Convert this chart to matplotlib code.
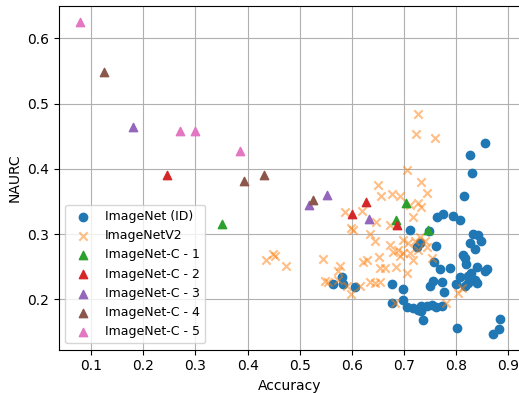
import matplotlib
matplotlib.use("Agg")
import matplotlib.pyplot as plt

# ImageNet (ID)
acc_id = [0.855, 0.827, 0.831, 0.815, 0.763, 0.775, 0.794, 0.808, 0.711, 0.748,
          0.832, 0.841, 0.847, 0.826, 0.836, 0.761, 0.730, 0.724, 0.812, 0.817,
          0.818, 0.757, 0.769, 0.788, 0.840, 0.858, 0.829, 0.823, 0.807, 0.836,
          0.839, 0.823, 0.817, 0.799, 0.756, 0.749, 0.772, 0.776, 0.580, 0.564,
          0.582, 0.605, 0.676, 0.697, 0.677, 0.697, 0.705, 0.717, 0.727, 0.733,
          0.743, 0.753, 0.762, 0.772, 0.736, 0.801, 0.884, 0.882, 0.870, 0.855,
          0.733]
naurc_id = [0.439, 0.422, 0.393, 0.358, 0.326, 0.331, 0.328, 0.321, 0.306, 0.305,
            0.301, 0.298, 0.290, 0.286, 0.277, 0.282, 0.287, 0.280, 0.268, 0.263,
            0.255, 0.257, 0.246, 0.248, 0.250, 0.246, 0.241, 0.236, 0.235, 0.230,
            0.225, 0.225, 0.220, 0.224, 0.228, 0.220, 0.227, 0.211, 0.235, 0.224,
            0.223, 0.219, 0.224, 0.216, 0.194, 0.199, 0.189, 0.187, 0.184, 0.190,
            0.190, 0.191, 0.189, 0.190, 0.169, 0.156, 0.170, 0.154, 0.147, 0.243,
            0.183]

# ImageNetV2
acc_v2 = [0.726, 0.723, 0.760, 0.706, 0.733, 0.650, 0.743, 0.656, 0.676, 0.692,
          0.711, 0.727, 0.733, 0.587, 0.619, 0.717, 0.646, 0.673, 0.598, 0.602,
          0.634, 0.644, 0.651, 0.673, 0.679, 0.698, 0.708, 0.721, 0.730, 0.740,
          0.727, 0.711, 0.698, 0.689, 0.743, 0.753, 0.692, 0.717, 0.663, 0.685,
          0.705, 0.436, 0.449, 0.452, 0.474, 0.545, 0.577, 0.573, 0.548, 0.554,
          0.573, 0.590, 0.599, 0.615, 0.621, 0.628, 0.634, 0.644, 0.653, 0.653,
          0.682, 0.781, 0.810, 0.804]
naurc_v2 = [0.484, 0.453, 0.448, 0.399, 0.380, 0.376, 0.363, 0.358, 0.362, 0.358,
            0.345, 0.347, 0.341, 0.334, 0.335, 0.326, 0.319, 0.314, 0.310, 0.306,
            0.300, 0.289, 0.265, 0.283, 0.273, 0.291, 0.286, 0.289, 0.296, 0.289,
            0.276, 0.271, 0.271, 0.276, 0.281, 0.263, 0.266, 0.260, 0.248, 0.250,
            0.240, 0.260, 0.270, 0.266, 0.251, 0.262, 0.251, 0.243, 0.229, 0.226,
            0.230, 0.220, 0.209, 0.220, 0.257, 0.260, 0.227, 0.225, 0.227, 0.248,
            0.195, 0.194, 0.217, 0.210]

# ImageNet-C severities 1..5
severity_labels = ["ImageNet-C - 1", "ImageNet-C - 2", "ImageNet-C - 3",
                   "ImageNet-C - 4", "ImageNet-C - 5"]
acc_c = [
    [0.350, 0.704, 0.685, 0.746],
    [0.245, 0.627, 0.600, 0.686],
    [0.181, 0.518, 0.553, 0.632],
    [0.124, 0.394, 0.431, 0.526],
    [0.079, 0.271, 0.299, 0.385],
]
naurc_c = [
    [0.315, 0.347, 0.321, 0.306],
    [0.391, 0.350, 0.331, 0.314],
    [0.464, 0.344, 0.360, 0.323],
    [0.549, 0.381, 0.390, 0.352],
    [0.625, 0.458, 0.458, 0.427],
]
sev_colors = ["tab:green", "tab:red", "tab:purple", "tab:brown", "tab:pink"]

fig = plt.figure(figsize=(5.19, 3.93), dpi=100)
ax = fig.add_axes([59 / 519, (393 - 349.7) / 393, (521 - 59) / 519, (349.7 - 6) / 393])

ax.scatter(acc_id, naurc_id, color="tab:blue", marker="o", s=36, label="ImageNet (ID)", zorder=2)
ax.scatter(acc_v2, naurc_v2, color="tab:orange", marker="x", s=36, alpha=0.5,
           label="ImageNetV2", zorder=3)
for a, n, c, lab in zip(acc_c, naurc_c, sev_colors, severity_labels):
    ax.scatter(a, n, color=c, marker="^", s=36, label=lab, zorder=4)

ax.set_xlim(0.0385, 0.924)
ax.set_ylim(0.123, 0.6495)
ax.set_xticks([0.1, 0.2, 0.3, 0.4, 0.5, 0.6, 0.7, 0.8, 0.9])
ax.set_yticks([0.2, 0.3, 0.4, 0.5, 0.6])
ax.grid(True)
ax.set_axisbelow(True)
ax.set_xlabel("Accuracy")
ax.set_ylabel("NAURC")
ax.legend(loc="lower left", fontsize=9)

fig.savefig("out.png", dpi=100)
